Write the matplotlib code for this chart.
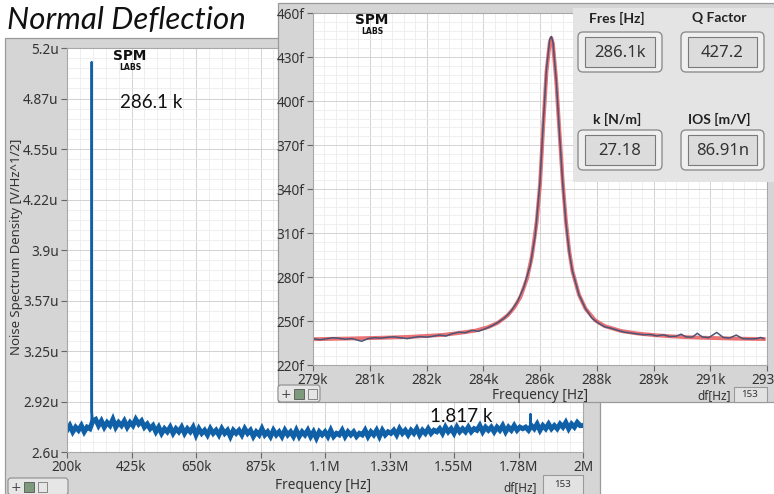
import numpy as np
import matplotlib.pyplot as plt
from matplotlib.patches import Rectangle, FancyBboxPatch
from matplotlib.ticker import FixedLocator, FixedFormatter, AutoMinorLocator

W, H = 774, 494

# --- main spectrum: noise density [uV/Hz^1/2], 10 kHz grid 200k..2M
main_freq_khz = list(range(200, 2001, 10))
main_psd_u = [
    2.74, 2.77, 2.73, 2.76, 2.74, 2.77, 2.73, 2.76, 2.75, 2.80,
    2.81, 2.77, 2.80, 2.76, 2.79, 2.77, 2.81, 2.76, 2.79, 2.77,
    2.80, 2.76, 2.79, 2.77, 2.81, 2.78, 2.80, 2.76, 2.78, 2.75,
    2.77, 2.73, 2.76, 2.72, 2.75, 2.73, 2.76, 2.72, 2.75, 2.73,
    2.76, 2.72, 2.75, 2.73, 2.76, 2.71, 2.75, 2.72, 2.74, 2.71,
    2.75, 2.72, 2.74, 2.71, 2.75, 2.72, 2.74, 2.70, 2.74, 2.72,
    2.74, 2.71, 2.75, 2.72, 2.74, 2.70, 2.73, 2.71, 2.75, 2.71,
    2.73, 2.70, 2.74, 2.71, 2.73, 2.70, 2.74, 2.71, 2.73, 2.70,
    2.74, 2.70, 2.73, 2.71, 2.74, 2.70, 2.73, 2.69, 2.73, 2.71,
    2.73, 2.70, 2.74, 2.70, 2.72, 2.71, 2.74, 2.70, 2.73, 2.71,
    2.73, 2.70, 2.72, 2.71, 2.74, 2.70, 2.73, 2.71, 2.74, 2.70,
    2.74, 2.71, 2.73, 2.72, 2.74, 2.71, 2.75, 2.72, 2.74, 2.71,
    2.74, 2.72, 2.75, 2.71, 2.74, 2.72, 2.75, 2.72, 2.74, 2.73,
    2.75, 2.72, 2.76, 2.73, 2.75, 2.72, 2.76, 2.73, 2.75, 2.73,
    2.76, 2.73, 2.75, 2.74, 2.77, 2.73, 2.76, 2.74, 2.76, 2.73,
    2.76, 2.74, 2.77, 2.73, 2.76, 2.74, 2.77, 2.74, 2.76, 2.75,
    2.76, 2.74, 2.77, 2.75, 2.78, 2.74, 2.77, 2.75, 2.78, 2.75,
    2.77, 2.75, 2.78, 2.76, 2.79, 2.75, 2.78, 2.76, 2.79, 2.77,
    2.77,
]
# resonance spikes (286.1 kHz and 1.817 MHz)
spike_freq_khz = [285.5, 286.1, 286.7, 1816.0, 1817.0, 1818.0]
spike_psd_u = [2.77, 5.11, 2.86, 2.77, 2.845, 2.77]

main_xticks = [200, 425, 650, 875, 1100, 1325, 1550, 1775, 2000]
main_xlabels = ['200k', '425k', '650k', '875k', '1.1M', '1.33M', '1.55M', '1.78M', '2M']
main_yticks = [2.6, 2.925, 3.25, 3.575, 3.9, 4.225, 4.55, 4.875, 5.2]
main_ylabels = ['2.6u', '2.92u', '3.25u', '3.57u', '3.9u', '4.22u', '4.55u', '4.87u', '5.2u']

# --- zoomed resonance: measured and fitted, values in f-units
meas_freq_khz = [
    279.0, 279.2, 279.4, 279.6, 279.8, 280.0, 280.2, 280.4, 280.5, 280.7,
    280.9, 281.1, 281.3, 281.5, 281.7, 281.9, 282.1, 282.3, 282.5, 282.7,
    282.9, 283.1, 283.3, 283.5, 283.7, 283.9, 284.1, 284.3, 284.5, 284.7,
    284.9, 285.1, 285.3, 285.5, 285.7, 285.85, 286.0, 286.1, 286.2, 286.3,
    286.35, 286.4, 286.5, 286.6, 286.7, 286.8, 286.9, 287.0, 287.2, 287.4,
    287.6, 287.8, 288.0, 288.2, 288.4, 288.6, 288.8, 289.0, 289.2, 289.4,
    289.6, 289.8, 290.0, 290.2, 290.35, 290.5, 290.7, 290.85, 291.0, 291.2,
    291.45, 291.65, 291.85, 292.05, 292.25, 292.5, 292.7, 292.8, 292.9,
]
meas_val_f = [
    238.0, 237.2, 237.8, 238.6, 238.2, 237.6, 238.0, 236.8, 236.2, 238.0,
    238.6, 238.3, 238.9, 239.2, 238.6, 238.0, 238.8, 239.4, 239.0, 239.6,
    240.4, 239.8, 241.4, 242.4, 242.0, 243.6, 243.0, 244.6, 246.5, 249.0,
    252.0, 256.5, 263.0, 273.0, 288.0, 308.0, 345.0, 385.0, 422.0, 442.0,
    444.0, 440.0, 414.0, 378.0, 344.0, 317.0, 297.0, 284.0, 268.0, 258.5,
    252.0, 248.5, 246.0, 245.0, 243.6, 242.4, 241.8, 241.2, 240.6, 240.8,
    239.8, 240.6, 239.4, 239.6, 241.0, 239.2, 239.0, 241.6, 239.2, 238.6,
    242.2, 238.8, 238.4, 240.4, 238.0, 237.8, 238.0, 238.8, 238.0,
]
fit_freq_khz = [
    279.0, 280.0, 281.0, 282.0, 283.0, 283.5, 284.0, 284.4, 284.7, 285.0,
    285.2, 285.4, 285.6, 285.75, 285.9, 286.0, 286.1, 286.2, 286.3, 286.35,
    286.4, 286.5, 286.6, 286.7, 286.8, 286.9, 287.0, 287.2, 287.4, 287.7,
    288.0, 288.5, 289.0, 289.5, 290.0, 290.5, 291.0, 291.5, 292.0, 292.9,
]
fit_val_f = [
    237.6, 238.0, 238.5, 239.2, 240.5, 241.8, 243.4, 245.8, 248.8, 253.8,
    259.0, 266.5, 279.0, 294.0, 318.0, 343.0, 383.0, 420.0, 440.0, 443.0,
    439.0, 414.0, 379.0, 345.0, 318.0, 298.0, 284.0, 268.0, 258.5, 250.5,
    246.5, 243.2, 241.5, 240.4, 239.6, 239.0, 238.6, 238.3, 238.0, 237.7,
]
zoom_xticks = [279, 280.75, 282.5, 284.25, 286, 287.75, 289.5, 291.25, 293]
zoom_xlabels = ['279k', '281k', '282k', '284k', '286k', '288k', '289k', '291k', '293k']
zoom_yticks = [220, 250, 280, 310, 340, 370, 400, 430, 460]
zoom_ylabels = ['220f', '250f', '280f', '310f', '340f', '370f', '400f', '430f', '460f']

param_names = ['Fres [Hz]', 'Q Factor', 'k [N/m]', 'IOS [m/V]']
param_values = ['286.1k', '427.2', '27.18', '86.91n']

PANEL = '#d5d5d5'
TXT = '#333333'
FONT = 'Noto Sans'
BLUE = '#1060a8'

fig = plt.figure(figsize=(W / 100, H / 100), dpi=100)
fig.patch.set_facecolor('white')


def rect(x0, y0, x1, y1):
    return [x0 / W, 1 - y1 / H, (x1 - x0) / W, (y1 - y0) / H]


def layer(z):
    a = fig.add_axes([0, 0, 1, 1], zorder=z)
    a.set_xlim(0, W)
    a.set_ylim(H, 0)
    a.axis('off')
    return a


def toolbar(a, x, y, w=42):
    a.add_patch(FancyBboxPatch((x, y), w, 17, boxstyle='round,pad=0,rounding_size=3',
                               fc='#e6e6e6', ec='#8c8c8c', lw=0.8))
    a.text(x + 8, y + 9, '+', ha='center', va='center', fontsize=9, color='#444444')
    a.add_patch(Rectangle((x + 16, y + 4), 10, 10, fc='#7d9a7d', ec='#555555', lw=0.6))
    a.add_patch(Rectangle((x + 30, y + 4), 9, 10, fc='#e6e6e6', ec='#777777', lw=0.6))


def style_axes(ax):
    ax.set_facecolor('white')
    for s in ax.spines.values():
        s.set_color('#a8a8a8')
        s.set_linewidth(0.8)
    ax.tick_params(which='major', direction='out', length=4, width=0.8, color='#666666',
                   labelcolor=TXT, labelsize=9.8, pad=2)
    ax.tick_params(which='minor', length=0)
    ax.xaxis.set_minor_locator(AutoMinorLocator(5))
    ax.yaxis.set_minor_locator(AutoMinorLocator(5))
    ax.grid(which='major', color='#d2d2d2', lw=0.7)
    ax.grid(which='minor', color='#ededed', lw=0.6)
    ax.set_axisbelow(True)
    for lab in ax.get_xticklabels() + ax.get_yticklabels():
        lab.set_family(FONT)


def logo(a, x, y):
    a.text(x, y, 'SPM', family='DejaVu Sans', weight='bold', fontsize=9.8,
           color='#111111', ha='center', va='center')
    a.text(x, y + 11, 'LABS', family='DejaVu Sans', weight='bold', fontsize=5.6,
           color='#111111', ha='center', va='center')


# ---------------- main panel background
L1 = layer(1)
L1.add_patch(Rectangle((5, 38), 595, 460, fc=PANEL, ec='#9a9a9a', lw=0.9))
L1.text(7, 20, 'Normal Deflection', fontsize=22.5, style='italic', family='Lato',
        color='#111111', va='center', ha='left')
toolbar(L1, 8, 478, 60)
L1.text(323, 485, 'Frequency [Hz]', family=FONT, fontsize=9.8, color=TXT, ha='center', va='center')
L1.text(17, 247, 'Noise Spectrum Density [V/Hz^1/2]', family=FONT, fontsize=9.5,
        color=TXT, rotation=90, ha='center', va='center')
L1.text(537, 488, 'df[Hz]', family=FONT, fontsize=8.5, color=TXT, ha='right', va='center')
L1.add_patch(Rectangle((543, 475), 40, 22, fc='#e2e2e2', ec='#9a9a9a', lw=0.8))
L1.text(563, 484, '153', family=FONT, fontsize=7, color=TXT, ha='center', va='center')

# ---------------- main spectrum
ax = fig.add_axes(rect(67, 48, 583, 452), zorder=2)
f_all = np.array(main_freq_khz + spike_freq_khz, dtype=float)
v_all = np.array(main_psd_u + spike_psd_u)
order = np.argsort(f_all)
# thin trace with spikes, thick band for the noise floor
ax.plot(f_all[order], v_all[order], color=BLUE, lw=1.6)
ax.plot(main_freq_khz, main_psd_u, color=BLUE, lw=3.6, solid_joinstyle='miter')
ax.set_xlim(200, 2000)
ax.set_ylim(2.6, 5.2)
ax.xaxis.set_major_locator(FixedLocator(main_xticks))
ax.xaxis.set_major_formatter(FixedFormatter(main_xlabels))
ax.yaxis.set_major_locator(FixedLocator(main_yticks))
ax.yaxis.set_major_formatter(FixedFormatter(main_ylabels))
style_axes(ax)

L1b = layer(2.5)
L1b.text(120, 102, '286.1 k', family='Lato', fontsize=13.5, color='#111111', va='center')
L1b.text(430, 416, '1.817 k', family='Lato', fontsize=13.5, color='#111111', va='center')
logo(L1b, 130, 56)

# ---------------- zoom panel background
L2 = layer(3)
L2.add_patch(Rectangle((278, 3), 500, 399, fc=PANEL, ec='#9a9a9a', lw=0.9))
toolbar(L2, 278, 385)
L2.text(540, 395, 'Frequency [Hz]', family=FONT, fontsize=9.8, color=TXT, ha='center', va='center')
L2.text(731, 396, 'df[Hz]', family=FONT, fontsize=8.5, color=TXT, ha='right', va='center')
L2.add_patch(Rectangle((734, 387), 33, 15, fc='#e2e2e2', ec='#9a9a9a', lw=0.8))
L2.text(750, 394, '153', family=FONT, fontsize=7, color=TXT, ha='center', va='center')

# ---------------- zoomed resonance
axz = fig.add_axes(rect(313, 13, 767, 365), zorder=4)
axz.plot(fit_freq_khz, fit_val_f, color='#e85a5c', lw=2.8, alpha=0.85)
axz.plot(meas_freq_khz, meas_val_f, color='#4a5476', lw=1.1)
axz.set_xlim(279, 293)
axz.set_ylim(220, 460)
axz.xaxis.set_major_locator(FixedLocator(zoom_xticks))
axz.xaxis.set_major_formatter(FixedFormatter(zoom_xlabels))
axz.yaxis.set_major_locator(FixedLocator(zoom_yticks))
axz.yaxis.set_major_formatter(FixedFormatter(zoom_ylabels))
style_axes(axz)

L2b = layer(4.5)
logo(L2b, 372, 20)

# ---------------- parameter panel
L3 = layer(5)
L3.add_patch(Rectangle((573, 8), 205, 174, fc='#e4e4e4', ec='none'))
cols = [(578, 662), (681, 764)]
rows = [(18, 32, 72), (119, 130, 170)]
for i, (name, val) in enumerate(zip(param_names, param_values)):
    x0, x1 = cols[i % 2]
    ty, y0, y1 = rows[i // 2]
    L3.text((x0 + x1) / 2 - 3, ty, name, family='Lato', weight='bold', fontsize=10,
            color='#222222', ha='center', va='center')
    L3.add_patch(FancyBboxPatch((x0, y0), x1 - x0, y1 - y0,
                                boxstyle='round,pad=0,rounding_size=5',
                                fc='#efefef', ec='#8e8e8e', lw=1.0))
    L3.add_patch(Rectangle((x0 + 7, y0 + 5), x1 - x0 - 14, y1 - y0 - 10,
                           fc='#dcdcdc', ec='#7a7a7a', lw=0.8))
    L3.text((x0 + x1) / 2, (y0 + y1) / 2 + 1, val, family=FONT, fontsize=12,
            color='#333333', ha='center', va='center')

fig.savefig('out.png', dpi=100)
